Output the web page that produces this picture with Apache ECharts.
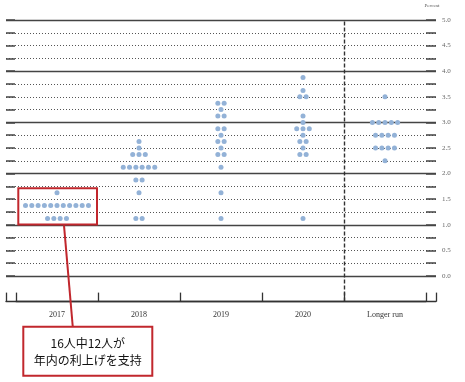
<!DOCTYPE html>
<html><head><meta charset="utf-8">
<script src="https://cdn.jsdelivr.net/npm/echarts@6/dist/echarts.min.js"></script>
<style>html,body{margin:0;padding:0;background:#fff}#c{width:465px;height:382px}</style>
</head><body><div id="c"></div>
<script>
// ---- data ----
const categories = ['2017', '2018', '2019', '2020', 'Longer run'];
const levels2017 = [1.625, 1.375, 1.125];
const counts2017 = [1, 11, 4];
const levels2018 = [2.625, 2.5, 2.375, 2.125, 1.875, 1.625, 1.125];
const counts2018 = [1, 1, 3, 6, 2, 1, 2];
const levels2019 = [3.375, 3.25, 3.125, 2.875, 2.75, 2.625, 2.5, 2.375, 2.125, 1.625, 1.125];
const counts2019 = [2, 1, 2, 2, 1, 2, 1, 2, 1, 1, 1];
const levels2020 = [3.875, 3.625, 3.5, 3.125, 3.0, 2.875, 2.75, 2.625, 2.5, 2.375, 1.125];
const counts2020 = [1, 1, 2, 1, 1, 3, 1, 2, 1, 2, 1];
const levelsLonger = [3.5, 3.0, 2.75, 2.5, 2.25];
const countsLonger = [1, 5, 4, 4, 1];
const yMin = 0, yMax = 5, yStep = 0.25, yMajor = 1;
const unitLabel = 'Percent';
const calloutText = ['16人中12人が', '年内の利上げを支持'];

// ---- build dots (stacked side by side within each category) ----
const DOT_STEP = 0.0768; // horizontal spacing between dots, in category widths
const columns = [[levels2017, counts2017], [levels2018, counts2018], [levels2019, counts2019], [levels2020, counts2020], [levelsLonger, countsLonger]];
const dots = [];
columns.forEach(([lv, ct], i) => {
  lv.forEach((v, k) => {
    const n = ct[k];
    for (let j = 0; j < n; j++) dots.push([i + 0.5 + (j - (n - 1) / 2) * DOT_STEP, v]);
  });
});

const serif = 'Liberation Serif';
const red = '#c1272d';
const chart = echarts.init(document.getElementById('c'), null, {renderer: 'canvas'});
chart.setOption({
  animation: false,
  backgroundColor: '#fff',
  grid: [
    {left: 6, top: 20, width: 430, height: 256, outerBoundsMode: 'none', containLabel: false},
    {left: 16, top: 20, width: 410, height: 281.6, outerBoundsMode: 'none', containLabel: false}
  ],
  xAxis: [
    {gridIndex: 0, type: 'value', min: 0, max: 1, interval: 1, position: 'bottom', offset: 25.6,
      axisLine: {show: true, onZero: false, lineStyle: {color: '#333', width: 1.3}},
      axisTick: {show: true, inside: true, length: 9, lineStyle: {color: '#333', width: 1.3}},
      axisLabel: {show: false}, splitLine: {show: false}},
    {gridIndex: 1, type: 'category', data: categories, position: 'bottom', boundaryGap: true,
      axisLine: {show: true, onZero: false, lineStyle: {color: '#333', width: 1.3}},
      axisTick: {show: true, inside: true, length: 9, interval: 0, lineStyle: {color: '#333', width: 1.3}},
      axisLabel: {interval: 0, margin: 9, fontFamily: serif, fontSize: 8, color: '#333'},
      splitLine: {show: false}},
    {gridIndex: 1, type: 'value', min: 0, max: 5, position: 'top',
      axisLine: {show: false, onZero: false}, axisTick: {show: false}, axisLabel: {show: false}, splitLine: {show: false}}
  ],
  yAxis: [
    {gridIndex: 0, type: 'value', position: 'right', min: yMin, max: yMax, interval: yStep,
      axisLine: {show: false, onZero: false},
      axisTick: {show: true, inside: true, length: 10, lineStyle: {color: '#444', width: 1.5}},
      axisLabel: {margin: 6, fontFamily: serif, fontSize: 7, color: '#666',
        formatter: v => (Math.abs(v * 2 - Math.round(v * 2)) < 1e-6 ? v.toFixed(1) : '')},
      splitLine: {show: true, lineStyle: {type: [1, 2], color: '#555', width: 1}}},
    {gridIndex: 0, type: 'value', position: 'left', min: yMin, max: yMax, interval: yStep,
      axisLine: {show: false, onZero: false},
      axisTick: {show: true, inside: true, length: 9, lineStyle: {color: '#444', width: 1.5}},
      axisLabel: {show: false}, splitLine: {show: false}},
    {gridIndex: 0, type: 'value', min: yMin, max: yMax, interval: yMajor,
      axisLine: {show: false, onZero: false}, axisTick: {show: false}, axisLabel: {show: false},
      splitLine: {show: true, lineStyle: {type: 'solid', color: '#444', width: 1.4}}},
    {gridIndex: 1, type: 'value', min: -0.5, max: 5,
      axisLine: {show: false, onZero: false}, axisTick: {show: false}, axisLabel: {show: false}, splitLine: {show: false}}
  ],
  series: [{
    type: 'scatter', xAxisIndex: 2, yAxisIndex: 3, data: dots, symbolSize: 5, z: 5,
    itemStyle: {color: '#93b2d7', opacity: 1},
    markLine: {silent: true, symbol: ['none', 'none'], label: {show: false},
      lineStyle: {type: [4, 2], color: '#333', width: 1.4},
      data: [{xAxis: 4}]}
  }],
  graphic: [
    {type: 'text', z: 101, style: {text: unitLabel, x: 432, y: 6, align: 'center', verticalAlign: 'middle',
      font: '5px "Liberation Serif"', fill: '#555'}},
    {type: 'rect', z: 100, shape: {x: 18.3, y: 188.3, width: 78.7, height: 36.2},
      style: {fill: 'none', stroke: red, lineWidth: 2}},
    {type: 'line', z: 100, shape: {x1: 64, y1: 225.3, x2: 72.7, y2: 326},
      style: {stroke: red, lineWidth: 2}},
    {type: 'rect', z: 100, shape: {x: 23.3, y: 326.7, width: 129, height: 49},
      style: {fill: '#fff', stroke: red, lineWidth: 2}},
    {type: 'text', z: 101, style: {text: calloutText.join('\n'), x: 87.8, y: 351.5,
      align: 'center', verticalAlign: 'middle', lineHeight: 17,
      font: '12px "Noto Sans CJK JP"', fill: '#111'}}
  ]
});
</script></body></html>
